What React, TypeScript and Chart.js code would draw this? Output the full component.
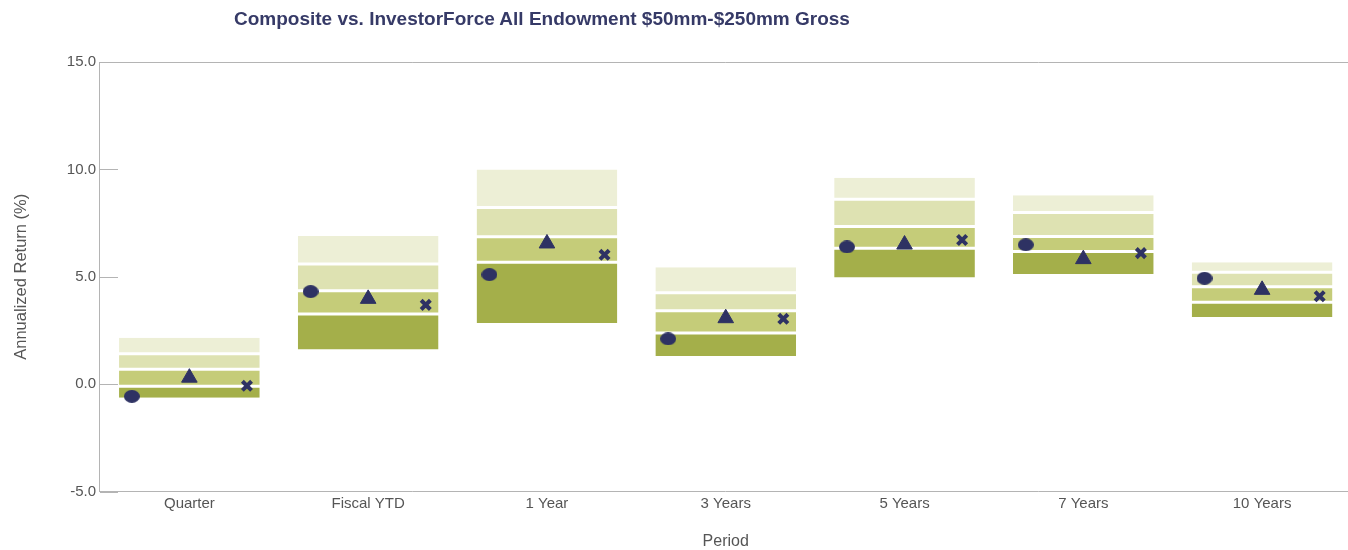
import React, { useEffect, useRef } from "react";
import { Chart, registerables } from "chart.js";

Chart.register(...registerables);

const categories = ["Quarter", "Fiscal YTD", "1 Year", "3 Years", "5 Years", "7 Years", "10 Years"];
const pct5 = [2.16, 6.9, 10.0, 5.44, 9.61, 8.79, 5.67];
const pct25 = [1.42, 5.59, 8.22, 4.25, 8.61, 7.99, 5.21];
const median = [0.69, 4.35, 6.86, 3.42, 7.34, 6.88, 4.54];
const pct75 = [-0.1, 3.27, 5.67, 2.38, 6.33, 6.18, 3.81];
const pct95 = [-0.64, 1.61, 2.85, 1.31, 4.97, 5.13, 3.12];
const seriesCircle = [-0.57, 4.31, 5.1, 2.11, 6.39, 6.49, 4.93];
const seriesTriangle = [0.3, 3.97, 6.55, 3.07, 6.5, 5.82, 4.39];
const seriesCross = [-0.08, 3.69, 6.02, 3.04, 6.71, 6.1, 4.09];
const yTicks = [-5, 0, 5, 10, 15];

const TITLE = "Composite vs. InvestorForce All Endowment $50mm-$250mm Gross";
const NAVY = "#2E3263";
const AXIS = "#B4B4B4";
const FONT = "'Liberation Sans', Arial, sans-serif";

function ellipse(w: number, h: number, color: string) {
  const c = document.createElement("canvas");
  c.width = w;
  c.height = h;
  const ctx = c.getContext("2d")!;
  ctx.fillStyle = color;
  ctx.beginPath();
  ctx.ellipse(w / 2, h / 2, w / 2, h / 2, 0, 0, Math.PI * 2);
  ctx.fill();
  return c;
}

const framePlugin = {
  id: "frame",
  afterDatasetsDraw(chart: any) {
    const { ctx, chartArea } = chart;
    const y = chart.scales.y;
    ctx.save();
    ctx.strokeStyle = AXIS;
    ctx.lineWidth = 1;
    ctx.beginPath();
    ctx.moveTo(chartArea.left, Math.round(chartArea.top) + 0.5);
    ctx.lineTo(chartArea.right, Math.round(chartArea.top) + 0.5);
    yTicks.forEach((v) => {
      const py = Math.round(y.getPixelForValue(v)) + 0.5;
      ctx.moveTo(chartArea.left, py);
      ctx.lineTo(chartArea.left + 18, py);
    });
    ctx.stroke();
    ctx.restore();
  },
};

export default function App() {
  const ref = useRef<HTMLCanvasElement>(null);
  useEffect(() => {
    document.body.style.overflow = "hidden";
    const band = (data: number[][], color: string, bw: any) => ({
      type: "bar" as const,
      data,
      backgroundColor: color,
      borderColor: "#FFFFFF",
      borderWidth: bw,
      borderSkipped: false,
      grouped: false,
      barPercentage: 0.787,
      categoryPercentage: 1,
      xAxisID: "x",
      order: 2,
    });
    const pts = (vals: number[], off: number) => vals.map((v, i) => ({ x: i + off, y: v }));
    const chart = new Chart(ref.current!, {
      type: "bar",
      data: {
        labels: categories,
        datasets: [
          band(categories.map((_, i) => [pct25[i], pct5[i]]), "#EDEFD6", { top: 0, bottom: 1.5, left: 0, right: 0 }),
          band(categories.map((_, i) => [median[i], pct25[i]]), "#DEE2B2", { top: 1.5, bottom: 1.5, left: 0, right: 0 }),
          band(categories.map((_, i) => [pct75[i], median[i]]), "#C5CC79", { top: 1.5, bottom: 1.5, left: 0, right: 0 }),
          band(categories.map((_, i) => [pct95[i], pct75[i]]), "#A4AF4A", { top: 1.5, bottom: 0, left: 0, right: 0 }),
          {
            type: "scatter",
            data: pts(seriesCircle, -0.322),
            xAxisID: "xs",
            pointStyle: ellipse(16, 13, NAVY) as any,
            pointRadius: 8,
            backgroundColor: NAVY,
            borderColor: NAVY,
            order: 0,
          } as any,
          {
            type: "scatter",
            data: pts(seriesTriangle, 0),
            xAxisID: "xs",
            pointStyle: "triangle",
            pointRadius: 9,
            backgroundColor: NAVY,
            borderColor: NAVY,
            borderWidth: 1,
            order: 0,
          } as any,
          {
            type: "scatter",
            data: pts(seriesCross, 0.322),
            xAxisID: "xs",
            pointStyle: "crossRot",
            pointRadius: 6.5,
            backgroundColor: NAVY,
            borderColor: NAVY,
            borderWidth: 4,
            order: 0,
          } as any,
        ],
      },
      options: {
        animation: false,
        responsive: false,
        maintainAspectRatio: false,
        layout: { padding: { top: 62, left: 0, right: 0, bottom: 0 } },
        plugins: { legend: { display: false }, tooltip: { enabled: false }, title: { display: false } },
        scales: {
          x: {
            type: "category",
            offset: true,
            grid: { display: true, drawOnChartArea: false, drawTicks: false },
            border: { display: true, color: AXIS, width: 1 },
            ticks: { color: "#555555", font: { family: FONT, size: 15 }, padding: 3 },
            title: {
              display: true,
              text: "Period",
              color: "#555555",
              font: { family: FONT, size: 16, lineHeight: 1 },
              padding: { top: 18.5, bottom: 0 },
            },
          },
          xs: {
            type: "linear",
            min: -0.5,
            max: 6.5,
            offset: false,
            display: false,
            grid: { offset: false },
          },
          y: {
            min: -5,
            max: 15,
            grid: { display: true, drawOnChartArea: false, drawTicks: false },
            border: { display: true, color: AXIS, width: 1 },
            ticks: {
              stepSize: 5,
              color: "#555555",
              font: { family: FONT, size: 15 },
              padding: 4,
              callback: (v: any) => Number(v).toFixed(1),
            },
            title: {
              display: true,
              text: "Annualized Return (%)",
              color: "#555555",
              font: { family: FONT, size: 16.5 },
              padding: { top: 12, bottom: 31 },
            },
          },
        },
      },
      plugins: [framePlugin],
    });
    return () => chart.destroy();
  }, []);
  return (
    <div style={{ position: "fixed", left: 0, top: 0, width: 1362, height: 550, background: "#fff" }}>
      <div
        style={{
          position: "absolute",
          left: 234,
          top: 8,
          fontFamily: FONT,
          fontWeight: "bold",
          fontSize: 19,
          lineHeight: "22px",
          color: "#363A67",
          whiteSpace: "nowrap",
        }}
      >
        {TITLE}
      </div>
      <canvas ref={ref} width={1362} height={550} style={{ display: "block", width: 1362, height: 550 }} />
    </div>
  );
}
